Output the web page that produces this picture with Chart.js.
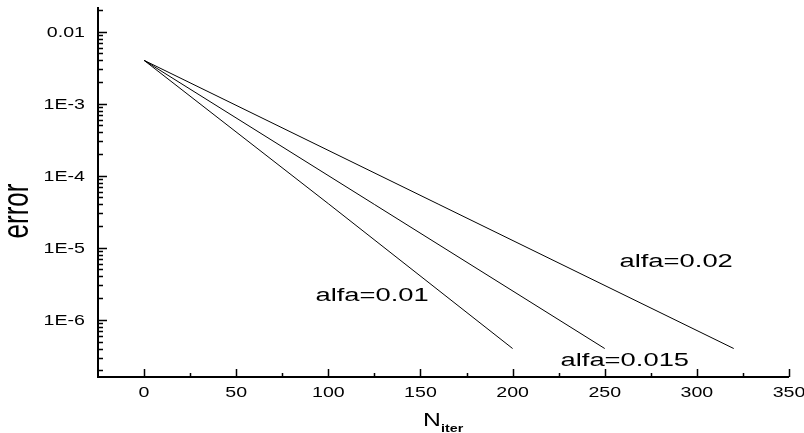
<!DOCTYPE html>
<html>
<head>
<meta charset="utf-8">
<script src="https://cdn.jsdelivr.net/npm/chart.js@4/dist/chart.umd.min.js"></script>
<style>
  body { margin: 0; background: #fff; }
  #wrap { width: 804px; height: 433px; }
</style>
</head>
<body>
<div id="wrap"><canvas id="myChart" width="804" height="433"></canvas></div>
<script>
// Datos (N de iteraciones vs error)
const nAlfa001 = [0, 100, 200];
const errAlfa001 = [0.004, 4.1e-5, 4e-7];
const nAlfa0015 = [0, 125, 250];
const errAlfa0015 = [0.004, 4e-5, 4e-7];
const nAlfa002 = [0, 160, 320];
const errAlfa002 = [0.004, 4e-5, 4e-7];

const serieNombres = ['alfa=0.01', 'alfa=0.015', 'alfa=0.02'];
// donde va cada etiqueta (en unidades de datos)
const etiquetaN = [93, 226, 258];
const etiquetaErr = [1.8e-6, 2.3e-7, 5.4e-6];

// Ticks de los ejes
const xMayores = [0, 50, 100, 150, 200, 250, 300, 350];
const xMenores = [25, 75, 125, 175, 225, 275, 325];
const yMayores = [1e-2, 1e-3, 1e-4, 1e-5, 1e-6];
const yEtiquetas = ['0.01', '1E-3', '1E-4', '1E-5', '1E-6'];

function puntos(xs, ys){
    return xs.map((x, i) => ({x: x, y: ys[i]}));
}

// texto estirado en horizontal como en la imagen original
function texto(ctx, t, x, y, sx, align, base){
    ctx.save();
    ctx.translate(x, y);
    ctx.scale(sx, 1);
    ctx.textAlign = align;
    ctx.textBaseline = base;
    ctx.fillText(t, 0, 0);
    ctx.restore();
}

const ejesPlugin = {
    id: 'ejes',
    afterDraw(chart){
        const ctx = chart.ctx;
        const xs = chart.scales.x;
        const ys = chart.scales.y;
        const a = chart.chartArea;
        ctx.save();
        ctx.strokeStyle = '#000';
        ctx.fillStyle = '#000';

        // lineas de los ejes
        ctx.lineWidth = 2;
        ctx.beginPath();
        ctx.moveTo(a.left, a.top);
        ctx.lineTo(a.left, a.bottom);
        ctx.lineTo(a.right, a.bottom);
        ctx.stroke();

        // ticks del eje x (hacia adentro)
        ctx.lineWidth = 1.5;
        ctx.beginPath();
        xMayores.forEach(v => {
            const px = Math.round(xs.getPixelForValue(v)) + 0.5;
            ctx.moveTo(px, a.bottom); ctx.lineTo(px, a.bottom - 8);
        });
        xMenores.forEach(v => {
            const px = Math.round(xs.getPixelForValue(v)) + 0.5;
            ctx.moveTo(px, a.bottom); ctx.lineTo(px, a.bottom - 4);
        });
        // ticks del eje y
        yMayores.forEach(v => {
            const py = Math.round(ys.getPixelForValue(v)) + 0.5;
            ctx.moveTo(a.left, py); ctx.lineTo(a.left + 9, py);
        });
        for (let e = -7; e <= -2; e++){
            for (let m = 2; m <= 9; m++){
                const v = m * Math.pow(10, e);
                if (v < ys.min || v > ys.max) continue;
                const py = Math.round(ys.getPixelForValue(v)) + 0.5;
                ctx.moveTo(a.left, py); ctx.lineTo(a.left + 5, py);
            }
        }
        ctx.stroke();

        // etiquetas de los ticks
        ctx.font = '14px "Liberation Sans", Arial, sans-serif';
        xMayores.forEach(v => {
            texto(ctx, String(v), xs.getPixelForValue(v), 397, 1.4, 'center', 'alphabetic');
        });
        yMayores.forEach((v, i) => {
            texto(ctx, yEtiquetas[i], 85, ys.getPixelForValue(v) + 5, 1.4, 'right', 'alphabetic');
        });

        // etiquetas de las series
        ctx.font = '18px "Liberation Sans", Arial, sans-serif';
        serieNombres.forEach((t, i) => {
            texto(ctx, t, xs.getPixelForValue(etiquetaN[i]), ys.getPixelForValue(etiquetaErr[i]), 1.52, 'left', 'alphabetic');
        });

        // titulo eje y
        ctx.save();
        ctx.font = '26px "Liberation Sans", Arial, sans-serif';
        ctx.translate(28, 211);
        ctx.scale(1.4, 1);
        ctx.rotate(-Math.PI / 2);
        ctx.textAlign = 'center';
        ctx.textBaseline = 'alphabetic';
        ctx.fillText('error', 0, 0);
        ctx.restore();

        // titulo eje x: N con subindice iter
        ctx.font = '19px "Liberation Sans", Arial, sans-serif';
        texto(ctx, 'N', 423, 426, 1.3, 'left', 'alphabetic');
        ctx.font = 'bold 11px "Liberation Sans", Arial, sans-serif';
        texto(ctx, 'iter', 441, 432, 1.3, 'left', 'alphabetic');

        ctx.restore();
    }
};

const ctx = document.getElementById('myChart');

new Chart(ctx, {
    type: 'scatter',
    data: {
        datasets: [
            { label: serieNombres[0], data: puntos(nAlfa001, errAlfa001) },
            { label: serieNombres[1], data: puntos(nAlfa0015, errAlfa0015) },
            { label: serieNombres[2], data: puntos(nAlfa002, errAlfa002) }
        ].map(d => Object.assign(d, {
            showLine: true,
            borderColor: '#000',
            borderWidth: 1,
            pointRadius: 0,
            tension: 0
        }))
    },
    options: {
        responsive: false,
        animation: false,
        layout: { padding: { left: 98, right: 15, top: 7, bottom: 56 } },
        plugins: { legend: { display: false }, tooltip: { enabled: false } },
        scales: {
            x: { type: 'linear', min: -25, max: 350, display: false },
            y: { type: 'logarithmic', min: 1.61e-7, max: 0.022, display: false }
        }
    },
    plugins: [ejesPlugin]
});
</script>
</body>
</html>
